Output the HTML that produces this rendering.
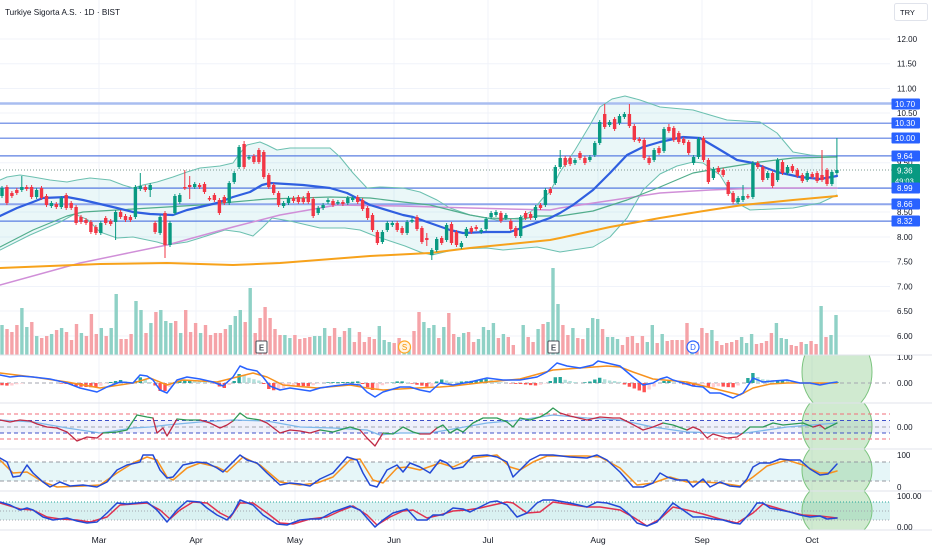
<!DOCTYPE html>
<html><head><meta charset="utf-8">
<style>
html,body{margin:0;padding:0;background:#fff;width:932px;height:550px;overflow:hidden}
svg{display:block;font-family:"Liberation Sans",Arial,sans-serif}
</style></head><body>
<svg width="932" height="550" viewBox="0 0 932 550" xmlns="http://www.w3.org/2000/svg">
<defs>
<clipPath id="cm"><rect x="0" y="0" width="892" height="355"/></clipPath>
<clipPath id="p1"><rect x="0" y="355" width="892" height="48"/></clipPath>
<clipPath id="p2"><rect x="0" y="403" width="892" height="46"/></clipPath>
<clipPath id="p3"><rect x="0" y="449" width="892" height="42"/></clipPath>
<clipPath id="p4"><rect x="0" y="491" width="892" height="39"/></clipPath>
<clipPath id="lab1"><rect x="880" y="355" width="52" height="20"/></clipPath>
</defs>
<rect x="0" y="0" width="932" height="550" fill="#fff"/>

<!-- grid -->
<g stroke="#f0f3fa" stroke-width="1">
<path d="M0 39H890M0 63.75H890M0 88.5H890M0 113H890M0 138H890M0 162.75H890M0 187.5H890M0 212H890M0 237H890M0 261.75H890M0 286.5H890M0 311H890M0 336H890"/>
<path d="M99 0V530M196 0V530M295 0V530M394 0V530M488 0V530M598 0V530M702 0V530M812 0V530"/>
</g>

<!-- pane bands -->
<rect x="0" y="420.5" width="890" height="12.5" fill="#eef0fb"/>
<rect x="0" y="462" width="890" height="19" fill="#e6f6f8"/>
<rect x="0" y="502" width="890" height="18" fill="#d9f1f1"/>

<!-- highlight -->
<g fill="rgba(110,190,110,0.32)" stroke="#7cc47f" stroke-width="1">
<ellipse cx="837" cy="372" rx="35" ry="42" clip-path="url(#p1)"/>
<ellipse cx="837" cy="426" rx="35" ry="36" clip-path="url(#p2)"/>
<ellipse cx="837" cy="470" rx="35" ry="33" clip-path="url(#p3)"/>
<ellipse cx="837" cy="510.5" rx="35" ry="30.5" clip-path="url(#p4)"/>
</g>

<!-- BB fill -->
<polygon fill="rgba(60,180,190,0.11)" points="0,180 7,177 20,175 33,177 50,180 67,182 77,180 90,178 110,180 123,185 133,188 143,185 157,182 173,177 187,172 200,168 220,166 233,163 240,153 247,145 260,142 267,145 277,150 290,148 330,148 340,157 353,173 367,188 380,187 403,188 420,192 437,200 450,208 470,215 497,220 520,218 533,210 543,198 550,192 560,172 575,150 590,125 600,107 612,99 625,96 640,100 660,107 693,110 710,115 727,120 760,122 777,133 793,152 810,155 837,157 837,195 820,203 793,208 750,210 737,203 720,175 703,163 693,162 677,166 660,174 643,190 627,218 610,237 593,247 560,252 537,247 503,250 487,248 457,249 432,255 420,252 405,246 390,241 375,236 360,230 345,228 320,228 290,221 272,218 263,227 253,236 240,232 225,230 200,238 187,242 167,245 157,242 133,237 117,238 100,232 88,220 75,214 60,222 30,235 0,250"/>

<!-- levels -->
<g>
<line x1="0" x2="892" y1="103.5" y2="103.5" stroke="#a9bdf0" stroke-width="2.4"/>
<line x1="0" x2="892" y1="123.2" y2="123.2" stroke="#5b7fe2" stroke-width="1.2"/>
<line x1="0" x2="892" y1="138.2" y2="138.2" stroke="#5b7fe2" stroke-width="1.2"/>
<line x1="0" x2="892" y1="155.9" y2="155.9" stroke="#5b7fe2" stroke-width="1.2"/>
<line x1="0" x2="892" y1="188.1" y2="188.1" stroke="#5b7fe2" stroke-width="1.3"/>
<line x1="0" x2="892" y1="204.3" y2="204.3" stroke="#8ea6ec" stroke-width="2"/>
<line x1="0" x2="892" y1="221.1" y2="221.1" stroke="#5b7fe2" stroke-width="1.2"/>
<line x1="0" x2="892" y1="170" y2="170" stroke="#7e9a92" stroke-width="1" stroke-dasharray="1,2"/>
</g>

<!-- MA / BB lines -->
<g fill="none" stroke-linejoin="round" stroke-linecap="round" clip-path="url(#cm)">
<polyline stroke="#6cc0b0" stroke-width="1" points="0,180 7,177 20,175 33,177 50,180 67,182 77,180 90,178 110,180 123,185 133,188 143,185 157,182 173,177 187,172 200,168 220,166 233,163 240,153 247,145 260,142 267,145 277,150 290,148 330,148 340,157 353,173 367,188 380,187 403,188 420,192 437,200 450,208 470,215 497,220 520,218 533,210 543,198 550,192 560,172 575,150 590,125 600,107 612,99 625,96 640,100 660,107 693,110 710,115 727,120 760,122 777,133 793,152 810,155 837,157"/>
<polyline stroke="#6cc0b0" stroke-width="1" points="0,250 30,235 60,222 75,214 88,220 100,232 117,238 133,237 157,242 167,245 187,242 200,238 225,230 240,232 253,236 263,227 272,218 290,221 320,228 345,228 360,230 375,236 390,241 405,246 420,252 432,255 457,249 487,248 503,250 537,247 560,252 593,247 610,237 627,218 643,190 660,174 677,166 693,162 703,163 720,175 737,203 750,210 793,208 820,203 837,195"/>
<polyline stroke="#d08fd8" stroke-width="1.5" points="0,285 80,263 167,245 233,227 280,215 337,205 400,206 470,208 550,210 560,208 627,198 660,193 710,190 760,188 837,188"/>
<polyline stroke="#f7a21b" stroke-width="2" points="0,268 100,264 167,263 233,265 280,263 370,256 430,253 470,248 550,240 560,238 610,227 660,218 710,210 743,205 793,200 837,196"/>
<polyline stroke="#52ad8c" stroke-width="1.2" points="0,247 33,230 67,216 83,212 117,210 167,207 200,205 233,202 267,199 300,198 330,197 370,198 403,202 430,205 450,210 470,215 487,218 523,219 537,216 560,216 593,211 627,200 660,187 693,173 710,170 760,162 793,158 837,157"/>
<polyline stroke="#2f5fe0" stroke-width="2.2" points="0,216 17,208 33,202 43,198 67,197 83,200 100,204 117,208 133,212 150,214 173,215 187,210 200,207 217,203 233,197 250,192 262,185 270,183 303,185 330,188 347,193 370,205 403,215 413,217 430,223 450,230 463,233 487,232 510,232 530,225 550,218 560,213 573,205 593,190 610,173 627,155 643,147 660,142 683,137 700,138 717,148 737,160 753,163 777,172 800,177 820,179 837,176"/>
</g>

<!-- volume -->
<path fill="none" stroke="#8fd1c6" stroke-width="3.4" d="M2 325V355M21.9 308V355M26.8 327V355M36.7 336V355M51.6 334V355M61.6 328V355M81.4 333V355M101.3 328V355M111.2 328V355M116.2 294V355M136 301V355M141 310V355M150.9 323V355M160.8 310V355M165.8 321V355M170.8 323V355M180.7 333V355M200.6 333V355M230.3 325V355M235.3 316V355M240.3 310V355M250.2 288V355M284.9 335V355M289.9 338V355M314.7 336V355M319.7 336V355M324.7 328V355M339.6 337V355M349.5 328V355M379.3 326V355M384.2 340V355M389.2 342V355M404.1 343V355M409 348V355M423.9 322V355M428.9 328V355M433.9 325V355M443.8 327V355M458.7 337V355M463.7 333V355M478.5 339V355M483.5 327V355M488.5 330V355M493.4 323V355M503.4 334V355M523.2 325V355M538.1 329V355M548 322V355M553 268V355M558 304V355M572.9 328V355M587.8 328V355M592.7 318V355M597.7 319V355M607.6 337V355M612.6 337V355M617.5 339V355M647.3 342V355M652.3 325V355M662.2 334V355M692 343V355M711.9 330V355M741.6 337V355M746.6 343V355M751.6 334V355M776.4 323V355M781.3 338V355M786.3 339V355M806.2 344V355M821.1 306V355M831 335V355M836 315V355"/>
<path fill="none" stroke="#f5a3a8" stroke-width="3.4" d="M7 329V355M11.9 332V355M16.9 325V355M31.8 322V355M41.7 338V355M46.7 336V355M56.6 330V355M66.5 332V355M71.5 340V355M76.5 324V355M86.4 336V355M91.4 314V355M96.3 334V355M106.2 336V355M121.1 339V355M126.1 339V355M131.1 334V355M146 333V355M155.9 312V355M175.7 321V355M185.7 310V355M190.6 332V355M195.6 323V355M205.5 325V355M210.5 335V355M215.5 333V355M220.4 333V355M225.4 329V355M245.2 322V355M255.2 333V355M260.1 318V355M265.1 307V355M270.1 318V355M275 329V355M280 335V355M294.9 335V355M299.8 339V355M304.8 338V355M309.8 337V355M329.6 336V355M334.6 328V355M344.5 331V355M354.4 342V355M359.4 332V355M364.4 342V355M369.3 337V355M374.3 339V355M394.2 343V355M399.1 338V355M414 331V355M419 312V355M438.8 338V355M448.8 313V355M453.7 334V355M468.6 332V355M473.6 342V355M498.4 338V355M508.3 337V355M513.3 345V355M528.2 337V355M533.1 342V355M543.1 324V355M562.9 325V355M567.9 335V355M577.8 338V355M582.8 339V355M602.6 329V355M622.5 345V355M627.5 337V355M632.4 336V355M637.4 343V355M642.4 336V355M657.2 343V355M667.2 341V355M672.1 340V355M677.1 340V355M682.1 340V355M687 323V355M697 342V355M701.9 328V355M706.9 333V355M716.8 341V355M721.8 345V355M726.7 343V355M731.7 342V355M736.7 340V355M756.5 344V355M761.5 343V355M766.5 341V355M771.4 333V355M791.3 345V355M796.2 346V355M801.2 342V355M811.1 341V355M816.1 344V355M826 337V355"/>

<!-- candles: wicks -->
<path fill="none" stroke="#089981" stroke-width="1" d="M2 186V198M21.8 176V192M36.6 188V199M51.4 201V208M61.3 196V209M100.8 221V235M115.6 210V240M135.4 185V219M140.3 173V191M150.2 183V197M160.1 215V235M170 221V247M174.9 194V215M179.8 193V204M194.7 182V189M229.2 181V205M234.2 171V184M239.1 145V169M249 155V160M283.6 201V208M288.5 196V205M318.2 206V215M323.1 203V210M328 198V204M337.9 200V205M347.8 196V205M352.7 196V202M382.4 230V244M387.3 221V232M392.3 221V227M407.1 220V235M412 218V223M431.8 248V260M436.7 237V252M446.6 223V242M461.4 241V249M466.4 227V238M481.2 228V234M486.1 217V231M491.1 211V219M496 210V217M505.9 213V220M520.7 215V238M535.5 205V220M545.4 188V207M555.3 165V185M560.2 150V169M575 158V165M589.9 155V162M594.8 141V157M599.7 120V145M609.6 120V127M619.5 114V125M624.4 112V119M654.1 148V162M664 127V153M693.6 155V165M698.5 137V159M713.4 167V180M738.1 196V204M743 185V202M752.9 161V199M767.7 171V180M777.6 158V182M787.5 165V175M807.2 171V182M831.9 170V186M836.9 138V175"/>
<path fill="none" stroke="#f23645" stroke-width="1" d="M6.9 185V205M11.9 191V198M16.8 188V195M26.7 185V191M31.6 185V199M41.5 186V200M46.5 194V207M56.3 202V209M66.2 193V210M71.2 201V210M76.1 205V225M81 215V224M86 218V225M90.9 220V234M95.9 225V235M105.7 216V225M110.7 219V226M120.6 210V219M125.5 214V222M130.4 215V222M145.3 185V192M155.1 221V234M165 211V258M184.8 170V190M189.7 176V199M199.6 183V189M204.5 182V194M209.5 196V201M214.4 193V202M219.4 198V215M224.3 195V205M244.1 141V169M253.9 154V164M258.9 148V164M263.8 150V179M268.8 173V189M273.7 183V195M278.6 191V207M293.5 196V203M298.4 195V204M303.3 196V204M308.3 191V204M313.2 197V218M333 199V207M342.9 200V206M357.7 195V204M362.6 198V211M367.6 206V220M372.5 213V232M377.4 230V245M397.2 221V232M402.1 226V235M417 215V231M421.9 226V244M426.8 233V246M441.7 236V245M451.5 222V245M456.5 230V247M471.3 226V234M476.2 225V231M500.9 211V223M510.8 219V231M515.8 226V238M525.6 211V220M530.6 212V220M540.5 203V210M550.3 187V195M565.2 156V167M570.1 156V166M580 151V160M584.9 156V165M604.7 104V129M614.6 117V131M629.4 104V128M634.3 124V142M639.3 137V143M644.2 138V160M649.1 156V165M659 146V155M668.9 124V133M673.8 126V142M678.8 131V144M683.7 137V145M688.7 140V155M703.5 136V162M708.4 158V184M718.3 166V174M723.2 168V177M728.2 180V196M733.1 191V204M747.9 194V199M757.8 161V169M762.8 165V182M772.6 171V188M782.5 160V175M792.4 164V173M797.3 168V178M802.3 173V183M812.2 172V179M817.1 171V183M822 150V182M827 168V186"/>
<!-- candles: bodies -->
<path fill="none" stroke="#089981" stroke-width="3.4" d="M2 188V196M21.8 187V190M36.6 190V197M51.4 203V206M61.3 198V207M100.8 223V233M115.6 212V222M135.4 187V217M140.3 186V189M150.2 185V190M160.1 217V233M170 223V245M174.9 196V213M179.8 195V202M194.7 184V187M229.2 183V203M234.2 173V182M239.1 147V167M249 157V158.5M283.6 203V206M288.5 198V203M318.2 208V213M323.1 205V208M328 200V202M337.9 202V203.5M347.8 198V203M352.7 198V200M382.4 232V242M387.3 223V230M392.3 223V225M407.1 222V233M412 220V221.5M431.8 250V255M436.7 239V250M446.6 225V240M461.4 243V247M466.4 229V236M481.2 230V232M486.1 219V229M491.1 213V217M496 212V215M505.9 215V218M520.7 217V236M535.5 207V218M545.4 190V205M555.3 167V183M560.2 158V167M575 160V163M589.9 157V160M594.8 143V155M599.7 122V143M609.6 122V125M619.5 116V123M624.4 114V117M654.1 150V160M664 129V151M693.6 157V163M698.5 139V157M713.4 169V178M738.1 198V202M743 196V200M752.9 163V197M767.7 173V178M777.6 160V180M787.5 167V173M807.2 173V180M831.9 172V184M836.9 170V173"/>
<path fill="none" stroke="#f23645" stroke-width="3.4" d="M6.9 187V203M11.9 193V196M16.8 190V193M26.7 187V189M31.6 187V197M41.5 188V198M46.5 196V205M56.3 204V207M66.2 195V208M71.2 203V208M76.1 207V223M81 217V222M86 220V223M90.9 222V232M95.9 227V233M105.7 218V223M110.7 221V224M120.6 212V217M125.5 216V220M130.4 217V220M145.3 187V190M155.1 223V232M165 213V245M184.8 187V188.5M189.7 185V187M199.6 185V187M204.5 184V192M209.5 198V199.5M214.4 195V200M219.4 200V213M224.3 197V203M244.1 144V167M253.9 156V162M258.9 150V162M263.8 152V177M268.8 175V187M273.7 185V193M278.6 193V205M293.5 198V201M298.4 197V202M303.3 198V202M308.3 193V202M313.2 199V216M333 201V205M342.9 202V204M357.7 197V202M362.6 200V209M367.6 208V218M372.5 215V230M377.4 232V243M397.2 223V230M402.1 228V233M417 217V229M421.9 228V242M426.8 238V240M441.7 238V243M451.5 224V243M456.5 232V245M471.3 228V232M476.2 227V229M500.9 213V221M510.8 221V229M515.8 228V236M525.6 213V218M530.6 214V218M540.5 205V208M550.3 189V193M565.2 158V165M570.1 158V164M580 153V158M584.9 158V163M604.7 114V127M614.6 119V129M629.4 114V126M634.3 126V140M639.3 139V141M644.2 140V158M649.1 158V163M659 148V153M668.9 127V131M673.8 128V140M678.8 133V142M683.7 139V143M688.7 142V153M703.5 138V160M708.4 160V182M718.3 168V172M723.2 170V175M728.2 182V194M733.1 193V202M747.9 196V197.5M757.8 163V167M762.8 167V180M772.6 173V186M782.5 162V173M792.4 166V171M797.3 170V176M802.3 175V181M812.2 174V177M817.1 173V181M822 175V180M827 170V184"/>

<!-- MACD pane -->
<line x1="0" x2="890" y1="383" y2="383" stroke="#a3a6af" stroke-width="1" stroke-dasharray="4,3"/>
<path fill="none" stroke="#ff5252" stroke-width="3.4" d="M2 383V385.2M6.9 383V385.6M61.3 383V383.6M66.2 383V384M71.2 383V385M76.1 383V386M81 383V386.7M86 383V387M90.9 383V387.3M95.9 383V387.5M155.1 383V385.5M160.1 383V391M165 383V391M214.4 383V383.6M219.4 383V386.5M224.3 383V388M263.8 383V384M268.8 383V389M273.7 383V390.2M298.4 383V385.9M303.3 383V386.1M308.3 383V386.3M362.6 383V384M367.6 383V387.2M372.5 383V390M412 383V383.6M417 383V384.7M421.9 383V385.6M426.8 383V386.8M510.8 383V383.5M515.8 383V383.9M520.7 383V384M525.6 383V384.5M530.6 383V385.1M535.5 383V385.5M624.4 383V384.5M629.4 383V386.8M634.3 383V388.5M639.3 383V390.5M644.2 383V392.3M683.7 383V384.5M688.7 383V385M693.6 383V385.5M708.4 383V387.5M723.2 383V386.6M728.2 383V387.1M733.1 383V387.4M807.2 383V383.7M812.2 383V384.2M817.1 383V384.7M822 383V384.8"/>
<path fill="none" stroke="#ffcdd2" stroke-width="3.4" d="M11.9 383V385.5M16.8 383V384.3M21.8 383V383.6M100.8 383V385.8M105.7 383V383.6M170 383V387M229.2 383V385M278.6 383V389.6M283.6 383V388M288.5 383V386M293.5 383V385.6M313.2 383V385.3M318.2 383V383.6M377.4 383V389M382.4 383V385.3M387.3 383V383.8M431.8 383V386.4M540.5 383V384.7M545.4 383V383.5M649.1 383V389.5M654.1 383V386.5M698.5 383V384.7M703.5 383V384.3M713.4 383V387.2M718.3 383V386.2M738.1 383V385.5M827 383V383.8"/>
<path fill="none" stroke="#26a69a" stroke-width="3.4" d="M110.7 383V382M115.6 383V381M120.6 383V380M135.4 383V381M140.3 383V377.4M174.9 383V382M179.8 383V380.7M184.8 383V380M189.7 383V380M234.2 383V381M239.1 383V374M328 383V382.3M333 383V382.1M337.9 383V382.1M342.9 383V382M347.8 383V382M352.7 383V381.8M357.7 383V381.4M392.3 383V382.5M397.2 383V381.4M402.1 383V381.4M436.7 383V381.5M441.7 383V379.5M461.4 383V381.5M466.4 383V381.2M471.3 383V380.9M476.2 383V380.1M481.2 383V379.4M486.1 383V379.1M550.3 383V381M555.3 383V377.3M560.2 383V377M584.9 383V382.3M589.9 383V381.5M594.8 383V379.5M599.7 383V377.7M664 383V381M668.9 383V380.4M747.9 383V378M752.9 383V373M777.6 383V380.1M782.5 383V380M836.9 383V382"/>
<path fill="none" stroke="#b2dfdb" stroke-width="3.4" d="M125.5 383V381.2M130.4 383V382.5M145.3 383V379.7M150.2 383V382M194.7 383V380.4M199.6 383V380.9M204.5 383V381.7M209.5 383V382.6M244.1 383V375M249 383V377.8M253.9 383V379.2M258.9 383V380.5M407.1 383V382.4M446.6 383V380.5M451.5 383V381.7M456.5 383V381.8M491.1 383V380M496 383V381.2M500.9 383V382.2M565.2 383V379.8M570.1 383V381M575 383V382M604.7 383V379.2M609.6 383V380.5M614.6 383V381M619.5 383V381.9M673.8 383V382.2M757.8 383V377M762.8 383V379.3M767.7 383V379.8M772.6 383V380.2M787.5 383V380.2M792.4 383V381.4M797.3 383V382.6"/>
<g fill="none" stroke-linejoin="round" stroke-linecap="round">
<polyline stroke="#f7921e" stroke-width="1.5" points="0,373 33,377 67,382 100,388 133,383 150,378 167,385 183,380 217,382 233,378 253,373 267,377 283,385 317,388 350,385 367,388 383,390 417,388 440,387 453,386 487,382 520,379 553,370 580,368 607,366 620,367 633,372 653,379 687,382 720,390 740,395 753,388 770,384 787,383 837,383"/>
<polyline stroke="#2962ff" stroke-width="1.5" points="0,375 10,377 20,376 33,377 50,379 67,383 80,388 97,392 107,387 120,382 133,383 140,375 147,376 153,380 160,390 167,393 177,380 187,377 200,379 213,382 223,386 233,377 240,366 247,369 257,371 263,377 270,386 280,390 290,388 310,391 320,388 333,386 350,384 360,385 367,392 375,397 383,392 400,387 410,387 420,390 430,392 440,383 453,385 470,382 487,378 503,380 520,380 537,377 547,372 557,363 567,366 580,368 593,365 598,361 607,363 620,366 633,377 643,385 653,383 660,379 667,377 673,380 683,383 693,386 703,387 710,393 720,393 733,398 743,393 753,378 763,382 773,381 787,380 800,383 810,383 820,385 830,383 837,382"/>
</g>

<!-- RSI pane -->
<g stroke-width="1" stroke-dasharray="4,3">
<line x1="0" x2="890" y1="414" y2="414" stroke="#f26d7a"/>
<line x1="0" x2="890" y1="420.5" y2="420.5" stroke="#3f51c8"/>
<line x1="0" x2="890" y1="427" y2="427" stroke="#a3a6af"/>
<line x1="0" x2="890" y1="433" y2="433" stroke="#3f51c8"/>
<line x1="0" x2="890" y1="439" y2="439" stroke="#f26d7a"/>
</g>
<g fill="none" stroke-linejoin="round" stroke-linecap="round" stroke-width="1.3">
<polyline stroke="#7fb8ea" stroke-width="1.3" points="0,420 33,422 67,428 100,433 133,428 150,427 167,425 200,422 233,420 267,421 300,427 333,428 367,430 380,435 400,433 430,433 453,429 487,423 520,420 553,415 587,418 620,420 653,427 687,432 720,433 737,434 753,432 787,427 837,423"/>
<polyline stroke="#c02a45" points="0,420 10,422 20,420 30,421 37,424 47,427 57,428 67,432 77,441 87,437 97,438 103,433"/>
<polyline stroke="#2e9a55" points="103,433 117,432 127,430 137,415 147,417 153,418"/>
<polyline stroke="#c02a45" points="153,418 157,433 163,428 167,436 177,419"/>
<polyline stroke="#2e9a55" points="177,419 187,420 200,420"/>
<polyline stroke="#c02a45" points="200,420 210,423 220,428 227,425 233,421"/>
<polyline stroke="#2e9a55" points="233,421 240,413 247,418 260,420"/>
<polyline stroke="#c02a45" points="260,420 267,423 280,433 290,430 300,431 310,433 320,430"/>
<polyline stroke="#2e9a55" points="320,430 333,432 350,427 360,430"/>
<polyline stroke="#c02a45" points="360,430 367,438 375,446 383,433"/>
<polyline stroke="#2e9a55" points="383,433 393,434 403,427 413,432 420,434"/>
<polyline stroke="#c02a45" points="420,434 430,434 437,428"/>
<polyline stroke="#2e9a55" points="437,428 443,425 450,433 457,429 463,432 473,423 483,418 497,418 507,422 513,427 520,418 530,420 540,417 547,413 553,408 560,413"/>
<polyline stroke="#c02a45" points="560,413 570,416 587,420 600,417 613,418 620,418 630,423 643,430 653,427 663,423"/>
<polyline stroke="#2e9a55" points="663,423 673,425 687,430"/>
<polyline stroke="#c02a45" points="687,430 693,427 700,430 707,438 713,434 727,438 737,437 743,433"/>
<polyline stroke="#2e9a55" points="743,433 750,427 763,427 773,423 783,425 793,424 803,423 813,427"/>
<polyline stroke="#c02a45" points="813,427 820,425 825,429"/>
<polyline stroke="#2e9a55" points="825,429 837,423"/>
</g>

<!-- Stoch pane -->
<g stroke="#9598a1" stroke-width="1" stroke-dasharray="4,3">
<line x1="0" x2="890" y1="462" y2="462"/>
<line x1="0" x2="890" y1="481" y2="481"/>
</g>
<g fill="none" stroke-linejoin="round" stroke-linecap="round" stroke-width="1.5">
<polyline stroke="#f7921e" points="0,460 13,473 27,472 43,482 57,487 83,486 100,485 117,473 133,463 147,457 157,460 167,477 173,480 187,468 200,463 217,467 227,472 243,457 260,465 280,482 300,485 317,483 333,477 350,460 360,459 373,480 383,483 397,468 407,467 420,470 440,463 453,467 473,458 497,455 510,467 520,470 533,462 547,456 587,456 600,457 620,468 637,485 653,483 670,477 687,482 703,482 720,483 740,486 753,477 767,466 787,460 803,465 820,473 830,473 837,471"/>
<polyline stroke="#2349d6" points="0,458 7,462 13,477 20,476 27,465 33,473 43,482 50,487 60,482 70,486 83,485 97,487 107,482 117,470 127,465 140,462 143,455 153,455 160,470 167,478 173,477 183,465 197,462 207,463 217,468 223,472 233,462 240,455 247,460 257,463 267,473 280,485 290,483 300,484 310,486 320,479 333,473 347,457 357,460 363,473 370,485 377,487 387,470 397,465 403,472 410,463 420,467 430,473 440,460 447,463 453,469 463,467 473,456 487,455 497,457 507,462 513,477 520,470 530,460 540,455 553,455 570,457 587,458 597,455 607,460 620,472 633,487 643,487 653,483 660,473 667,477 677,480 687,480 693,487 703,479 710,487 720,482 730,486 740,487 747,479 753,467 760,463 770,463 780,459 790,460 800,460 810,469 820,475 828,474 837,464"/>
</g>

<!-- Stoch RSI pane -->
<line x1="0" x2="890" y1="502" y2="502" stroke="#26a69a" stroke-width="1" stroke-dasharray="1,2"/>
<line x1="0" x2="890" y1="511" y2="511" stroke="#a3a6af" stroke-width="1" stroke-dasharray="1,2"/>
<line x1="0" x2="890" y1="520" y2="520" stroke="#a3a6af" stroke-width="1" stroke-dasharray="1,2"/>
<g fill="none" stroke-linejoin="round" stroke-linecap="round" stroke-width="1.5">
<polyline stroke="#e0314f" points="0,503 20,509 33,510 47,517 60,519 77,520 90,522 107,517 120,505 133,504 147,503 160,510 170,519 180,510 193,502 207,503 220,513 230,518 240,503 253,503 267,513 280,523 293,524 310,519 327,517 340,511 353,506 367,515 377,525 390,517 403,511 413,510 427,518 440,515 453,511 467,510 480,508 493,505 507,502 513,503 527,513 540,512 553,502 587,507 600,507 620,510 633,517 647,526 660,519 673,507 687,510 703,514 720,519 737,523 753,513 763,504 777,508 790,512 803,515 820,516 837,518"/>
<polyline stroke="#2349d6" points="0,502 10,505 20,510 27,508 33,510 43,517 53,520 67,518 77,521 87,523 97,522 107,513 117,503 127,504 137,503 147,502 157,510 167,522 177,510 187,501 200,502 207,508 217,515 227,520 233,513 240,500 253,505 263,515 277,524 287,525 300,520 310,519 320,519 333,512 350,506 360,510 367,518 375,527 383,520 393,513 407,509 417,520 427,520 433,515 443,515 453,508 463,509 470,512 480,507 490,502 497,501 507,505 517,517 527,513 537,503 543,500 553,500 570,503 587,507 597,502 607,503 620,507 630,515 637,523 647,526 657,522 667,510 673,503 683,510 693,517 703,517 713,519 723,520 733,523 740,524 750,513 757,503 763,503 770,508 780,510 790,512 800,515 810,517 820,516 827,519 837,518"/>
</g>

<!-- separators -->
<path stroke="#e0e3eb" stroke-width="1" d="M0 355H932M0 403H932M0 449H932M0 491H932M0 530H932"/>

<!-- markers -->
<rect x="256" y="341" width="11" height="12" fill="#fff" stroke="#4a4d57" stroke-width="1" rx="1"/>
<text x="261.5" y="350.5" font-size="8" font-weight="bold" fill="#4a4d57" text-anchor="middle">E</text>
<rect x="548" y="341" width="11" height="12" fill="#fff" stroke="#4a4d57" stroke-width="1" rx="1"/>
<text x="553.5" y="350.5" font-size="8" font-weight="bold" fill="#4a4d57" text-anchor="middle">E</text>
<circle cx="404.5" cy="347" r="6" fill="#fff3e0" stroke="#ffa726" stroke-width="1.2"/>
<text x="404.5" y="350" font-size="8" fill="#f59300" text-anchor="middle">S</text>
<circle cx="693" cy="347" r="6" fill="#fff" stroke="#2962ff" stroke-width="1.2"/>
<text x="693" y="350" font-size="8" fill="#2962ff" text-anchor="middle">D</text>

<!-- title -->
<text x="5" y="15" font-size="8.3" fill="#131722" textLength="115" lengthAdjust="spacingAndGlyphs">Turkiye Sigorta A.S. · 1D · BIST</text>

<!-- TRY box -->
<rect x="894.5" y="3.5" width="33" height="17" fill="#fff" stroke="#e0e3eb" rx="2"/>
<text x="900" y="15" font-size="7.5" fill="#131722">TRY</text>

<!-- price axis -->
<g font-size="8" fill="#131722">
<text x="897" y="42">12.00</text>
<text x="897" y="66.5">11.50</text>
<text x="897" y="91.5">11.00</text>
<text x="897" y="116">10.50</text>
<text x="897" y="165.5">9.50</text>
<text x="897" y="215">8.50</text>
<text x="897" y="240">8.00</text>
<text x="897" y="264.5">7.50</text>
<text x="897" y="289.5">7.00</text>
<text x="897" y="314">6.50</text>
<text x="897" y="339">6.00</text>
<text x="897" y="360" clip-path="url(#lab1)">1.00</text>
<text x="897" y="386">0.00</text>
<text x="897" y="430">0.00</text>
<text x="897" y="458">100</text>
<text x="897" y="490">0</text>
<text x="897" y="499">100.00</text>
<text x="897" y="530">0.00</text>
</g>
<g font-size="8" fill="#fff">
<rect x="891.5" y="98.5" width="28.5" height="11" fill="#2962ff" rx="1"/><text x="895" y="107">10.70</text>
<rect x="891.5" y="117.5" width="28.5" height="11" fill="#2962ff" rx="1"/><text x="895" y="126">10.30</text>
<rect x="891.5" y="132.5" width="28.5" height="11" fill="#2962ff" rx="1"/><text x="895" y="141">10.00</text>
<rect x="891.5" y="150.5" width="28.5" height="11" fill="#2962ff" rx="1"/><text x="897" y="159">9.64</text>
<rect x="891.5" y="164" width="28.5" height="22" fill="#089981" rx="1"/><text x="897" y="173.5">9.36</text><text x="895" y="183.5" font-size="7.5">49:03</text>
<rect x="891.5" y="182.5" width="28.5" height="11" fill="#2962ff" rx="1"/><text x="897" y="191">8.99</text>
<rect x="891.5" y="198.5" width="28.5" height="11" fill="#2962ff" rx="1"/><text x="897" y="207">8.66</text>
<rect x="891.5" y="215.5" width="28.5" height="11" fill="#2962ff" rx="1"/><text x="897" y="224">8.32</text>
</g>

<!-- time axis -->
<g font-size="8.6" fill="#131722" text-anchor="middle">
<text x="99" y="543">Mar</text>
<text x="196" y="543">Apr</text>
<text x="295" y="543">May</text>
<text x="394" y="543">Jun</text>
<text x="488" y="543">Jul</text>
<text x="598" y="543">Aug</text>
<text x="702" y="543">Sep</text>
<text x="812" y="543">Oct</text>
</g>
</svg>
</body></html>
